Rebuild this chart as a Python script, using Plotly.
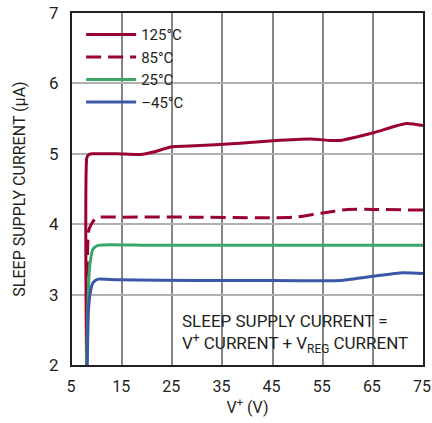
import plotly.graph_objects as go

# Data
v_125 = [7.9, 7.95, 8.2, 8.85, 10.6, 14.0, 18.6, 21.5, 24.9, 28.5, 38.5, 45.1, 52.5, 56.5, 58.5, 65.1, 71.7, 75.0]
i_125 = [2.0, 4.94, 4.98, 5.0, 5.0, 5.0, 4.99, 5.03, 5.10, 5.11, 5.15, 5.185, 5.21, 5.19, 5.19, 5.30, 5.43, 5.40]

v_85 = [7.9, 8.3, 8.7, 9.85, 15.0, 30.0, 45.0, 49.4, 54.7, 60.0, 65.0, 75.0]
i_85 = [2.0, 3.9, 3.98, 4.09, 4.10, 4.10, 4.09, 4.10, 4.157, 4.21, 4.21, 4.20]

v_25 = [7.9, 8.5, 9.2, 10.2, 20.0, 40.0, 60.0, 75.0]
i_25 = [2.0, 3.38, 3.65, 3.70, 3.70, 3.70, 3.70, 3.70]

v_m45 = [8.05, 8.3, 8.7, 9.2, 10.2, 14.2, 30.0, 45.0, 56.0, 58.5, 65.0, 71.0, 75.0]
i_m45 = [2.0, 2.8, 3.05, 3.17, 3.22, 3.21, 3.20, 3.20, 3.195, 3.20, 3.26, 3.31, 3.30]

labels = ["125°C", "85°C", "25°C", "–45°C"]
x_ticks = [5, 15, 25, 35, 45, 55, 65, 75]
y_ticks = [2, 3, 4, 5, 6, 7]

RED = "#990033"
GREEN = "#3aa66a"
BLUE = "#3a58a8"
INK = "#231f20"
FONT = "Roboto, sans-serif"

fig = go.Figure()
series = [
    (v_125, i_125, labels[0], RED, "solid"),
    (v_85, i_85, labels[1], RED, "15px,7px"),
    (v_25, i_25, labels[2], GREEN, "solid"),
    (v_m45, i_m45, labels[3], BLUE, "solid"),
]
for xs, ys, name, col, dash in series:
    fig.add_trace(go.Scatter(
        x=xs, y=ys, name=name, mode="lines",
        line=dict(color=col, width=3, dash=dash, shape="spline", smoothing=0.6),
    ))

# white panels that hide the grid behind the legend and the note
fig.add_shape(type="rect", xref="paper", yref="paper", x0=0.003, x1=0.359, y0=0.724, y1=0.986,
              fillcolor="white", line=dict(width=0), layer="between")
fig.add_shape(type="rect", xref="paper", yref="paper", x0=0.293, x1=0.994, y0=0.011, y1=0.151,
              fillcolor="white", line=dict(width=0), layer="between")

fig.update_layout(
    width=432, height=423,
    margin=dict(l=72, r=9, t=13, b=58),
    paper_bgcolor="white", plot_bgcolor="white",
    font=dict(family=FONT, size=16, color=INK),
    showlegend=True,
    legend=dict(
        x=0.026, y=0.985, xanchor="left", yanchor="top",
        bgcolor="rgba(255,255,255,0)", borderwidth=0,
        font=dict(family=FONT, size=15, color=INK),
        tracegroupgap=0, itemwidth=50,
    ),
    annotations=[dict(
        x=0.31, y=0.09, xref="paper", yref="paper",
        xanchor="left", yanchor="middle", align="left",
        text="SLEEP SUPPLY CURRENT =<br>V<sup>+</sup> CURRENT + V<sub>REG</sub> CURRENT",
        showarrow=False, borderpad=0,
        font=dict(family=FONT, size=17, color=INK),
    )],
)

fig.update_xaxes(
    range=[5, 75], tickvals=x_ticks, ticktext=[str(t) for t in x_ticks],
    showgrid=True, gridcolor="#858585", gridwidth=1.5,
    showline=True, linecolor=INK, linewidth=2, mirror=True,
    ticks="outside", ticklen=6, tickcolor="rgba(0,0,0,0)",
    tickfont=dict(family=FONT, size=16), ticklabelshift=-1,
    zeroline=False, automargin=False,
    title=dict(text="V<sup>+</sup> (V)", standoff=6, font=dict(family=FONT, size=16)),
)
fig.update_yaxes(
    range=[2, 7], tickvals=y_ticks, ticktext=[str(t) for t in y_ticks],
    showgrid=True, gridcolor="#b0b0b0", gridwidth=1.5,
    showline=True, linecolor=INK, linewidth=2, mirror=True,
    ticks="outside", ticklen=8, tickcolor="rgba(0,0,0,0)",
    tickfont=dict(family=FONT, size=17),
    zeroline=False, automargin=False,
    title=dict(text="SLEEP SUPPLY CURRENT (µA)", standoff=19, font=dict(family=FONT, size=16)),
)

fig.write_html("out.html", config={"displayModeBar": False},
               post_script="document.body.style.margin='0';")
